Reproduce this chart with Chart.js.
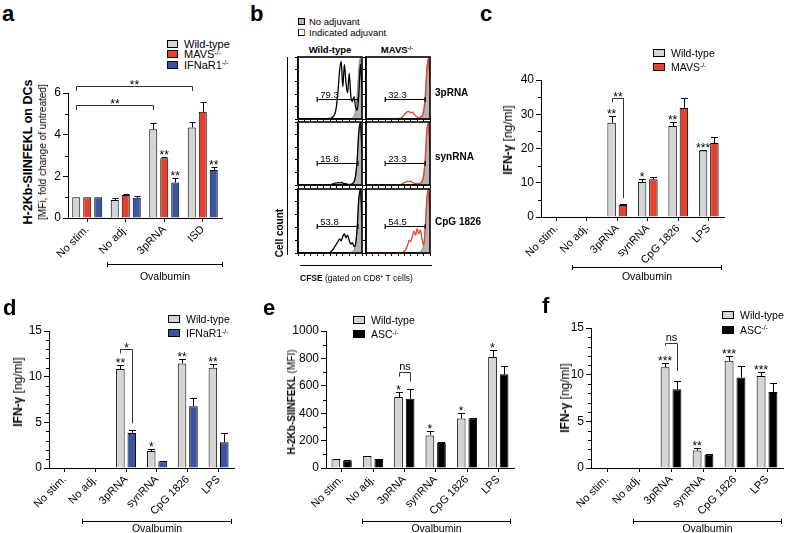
<!DOCTYPE html>
<html>
<head>
<meta charset="utf-8">
<title>Adjuvant panels</title>
<script src="https://cdn.jsdelivr.net/npm/chart.js@4.4.1/dist/chart.umd.min.js"></script>
<style>
  body { margin: 0; width: 785px; height: 533px; position: relative; overflow: hidden; background: #fff;
         font-family: "Liberation Sans", Arial, Helvetica, sans-serif; color: #000; }
  canvas { position: absolute; }
  .txt { position: absolute; white-space: nowrap; line-height: 1; }
  .box { position: absolute; border: 1px solid #000; box-sizing: border-box; }
  .line { position: absolute; background: #000; }
  sup { font-size: 0.62em; vertical-align: 0; position: relative; top: -0.5em; }
</style>
</head>
<body>
<script>
// ---- categories
const aCats = ['No stim.', 'No adj.', '3pRNA', 'ISD'];
const ovaCats = ['No stim.', 'No adj.', '3pRNA', 'synRNA', 'CpG 1826', 'LPS'];

// ---- panel a: H-2Kb-SIINFEKL on DCs (fold change of untreated)
const aWildType = [1.0, 0.87, 4.26, 4.35];
const aWildTypeErr = [0, 0.08, 0.31, 0.25];
const aMavs = [1.0, 1.1, 2.87, 5.1];
const aMavsErr = [0, 0.05, 0.05, 0.48];
const aIfnar = [1.0, 0.97, 1.7, 2.3];
const aIfnarErr = [0, 0.08, 0.2, 0.13];

// ---- panel c: IFN-g, wild-type vs MAVS-/-
const cWildType = [0, 0, 27.5, 10.2, 26.6, 19.4];
const cWildTypeErr = [0, 0, 2.1, 0.8, 1.0, 0.3];
const cMavs = [0.15, 0.15, 3.5, 11.0, 31.8, 21.6];
const cMavsErr = [0, 0, 0.3, 0.8, 3.0, 1.9];

// ---- panel d: IFN-g, wild-type vs IFNaR1-/-
const dWildType = [0, 0, 10.83, 1.87, 11.45, 10.98];
const dWildTypeErr = [0, 0, 0.44, 0.22, 0.48, 0.4];
const dIfnar = [0, 0.05, 3.84, 0.73, 6.77, 2.82];
const dIfnarErr = [0, 0, 0.29, 0.03, 0.91, 1.02];

// ---- panel e: H-2Kb-SIINFEKL (MFI), wild-type vs ASC-/-
const eWildType = [63, 87, 519, 238, 362, 811];
const eWildTypeErr = [3, 4, 39, 29, 41, 48];
const eAsc = [55, 65, 505, 182, 364, 684];
const eAscErr = [2, 3, 73, 6, 4, 61];

// ---- panel f: IFN-g, wild-type vs ASC-/-
const fWildType = [0, 0, 10.8, 1.87, 11.48, 9.87];
const fWildTypeErr = [0, 0, 0.43, 0.28, 0.47, 0.39];
const fAsc = [0, 0, 8.43, 1.43, 9.69, 8.15];
const fAscErr = [0, 0, 0.93, 0.02, 1.25, 1.0];

// significance marks: [category, dataset, text]
const aStars = [[2, 1, '**'], [2, 2, '**'], [3, 2, '**']];
const cStars = [[2, 0, '**'], [3, 0, '*'], [4, 0, '**'], [5, 0, '***']];
const dStars = [[2, 0, '**'], [3, 0, '*'], [4, 0, '**'], [5, 0, '**']];
const eStars = [[2, 0, '*'], [3, 0, '*'], [4, 0, '*'], [5, 0, '*']];
const fStars = [[2, 0, '***'], [3, 0, '**'], [4, 0, '***'], [5, 0, '***']];

// brackets: from [cat, ds] to [cat, ds], bar height, leg ends, label
const aBrackets = [
  { a: [0, 0], b: [3, 0], y: 6.34, ya: 6.1, yb: 6.1, text: '**' },
  { a: [0, 0], b: [2, 0], y: 5.42, ya: 5.18, yb: 5.18, text: '**' }
];
const cBrackets = [{ a: [2, 0], b: [2, 1], y: 34.7, ya: 33.5, yb: 5.5, text: '**' }];
const dBrackets = [{ a: [2, 0], b: [2, 1], y: 13.0, ya: 12.55, yb: 4.9, text: '*' }];
const eBrackets = [{ a: [2, 0], b: [2, 1], y: 703, ya: 667, yb: 631, text: 'ns' }];
const fBrackets = [{ a: [2, 0], b: [2, 1], y: 13.4, ya: 13.1, yb: 10.4, text: 'ns' }];

// ---- panel b: CFSE histograms (bins, % of max)
const cfseBins = [0,1,2,3,4,5,6,7,8,9,10,11,12,13,14,15,16,17,18,19,20,21,22,23,24,25,26,27,28,29,30,31,32,33,34,35,36,37,38,39,40];
const noAdjuvant = [0,0,0,0,0,0,0,0,0,0, 0,0,0,0,0,0,0,0,0,0, 0,0,0,0,0,0,0,0,0,0, 0,0,0,1,2,5,14,40,82,98,60];
const wt3pRNA = [0,0,0,0,0,0,0,0,0,0, 0,0,0,0,0,0,0,0,0,1, 1,2,4,8,20,45,78,93,52,88, 58,42,74,38,28,36,20,14,40,88,50];
const mavs3pRNA = [0,0,0,0,0,0,0,0,0,0, 0,0,0,0,0,0,0,0,0,0, 0,1,2,4,7,10,12,12,10,11, 8,5,3,2,3,5,12,30,75,98,55];
const wtSynRNA = [0,0,0,0,0,0,0,0,0,0, 0,0,0,0,0,0,0,0,0,0, 0,1,2,3,3,4,3,4,3,2, 2,1,1,1,2,5,15,40,85,99,50];
const mavsSynRNA = [0,0,0,0,0,0,0,0,0,0, 0,0,0,0,0,0,0,0,0,0, 0,0,1,2,4,5,6,5,6,4, 3,2,2,2,3,6,15,40,85,99,50];
const wtCpG = [0,0,0,0,0,0,0,0,0,0, 0,0,0,0,0,0,0,0,0,0, 1,3,6,10,14,18,22,19,26,30, 24,28,20,14,16,10,14,40,85,99,50];
const mavsCpG = [0,0,0,0,0,0,0,0,0,0, 0,0,0,0,0,0,0,0,0,0, 0,0,0,1,3,6,12,20,18,26, 34,28,38,30,36,22,12,35,85,99,50];
// gate: start, end, height; label
const gates = {
  wt3pRNA: [12, 37.5, 32, '79.3'], mavs3pRNA: [12, 37, 32, '32.3'],
  wtSynRNA: [12, 37.5, 35, '15.8'], mavsSynRNA: [12, 37, 35, '23.3'],
  wtCpG: [12, 37.5, 42, '53.8'], mavsCpG: [12, 37, 42, '54.5']
};

const GRAY = '#d4d4d4', RED = '#e5412d', BLUE = '#3b54a3', BLACK = '#000000';

Chart.defaults.font.family = '"Liberation Sans", Arial, sans-serif';
Chart.defaults.color = '#000';
Chart.defaults.animation = false;

// error bars, minor ticks, stars and brackets drawn from the chart's scales
Chart.register({
  id: 'prism',
  afterDatasetsDraw(chart, args, opts) {
    if (!opts || !opts.errors) return;
    const ctx = chart.ctx, y = chart.scales.y, area = chart.chartArea;
    ctx.save();
    ctx.strokeStyle = '#000';
    ctx.fillStyle = '#000';
    ctx.lineWidth = 1;
    ctx.beginPath();
    for (let v = opts.minor; v < y.max; v += opts.minor) {
      if (Math.abs(v / opts.step - Math.round(v / opts.step)) < 1e-6) continue;
      const py = Math.round(y.getPixelForValue(v)) + 0.5;
      ctx.moveTo(area.left - 3, py);
      ctx.lineTo(area.left, py);
    }
    ctx.stroke();
    const errTop = (di, ci) => {
      const v = chart.data.datasets[di].data[ci] + (opts.errors[di][ci] || 0);
      return y.getPixelForValue(v);
    };
    ctx.beginPath();
    opts.errors.forEach((errs, di) => {
      chart.getDatasetMeta(di).data.forEach((bar, ci) => {
        if (!errs[ci]) return;
        const x = Math.round(bar.x) + 0.5, top = Math.round(errTop(di, ci)) + 0.5;
        ctx.moveTo(x, bar.y);
        ctx.lineTo(x, top);
        ctx.moveTo(x - opts.cap, top);
        ctx.lineTo(x + opts.cap, top);
      });
    });
    ctx.stroke();
    ctx.font = '12px "Liberation Sans"';
    ctx.textAlign = 'center';
    ctx.textBaseline = 'alphabetic';
    (opts.stars || []).forEach(([ci, di, txt]) => {
      const bar = chart.getDatasetMeta(di).data[ci];
      ctx.fillText(txt, bar.x, errTop(di, ci) + 2);
    });
    ctx.strokeStyle = '#333';
    (opts.brackets || []).forEach(b => {
      const x1 = Math.round(chart.getDatasetMeta(b.a[1]).data[b.a[0]].x) + 0.5;
      const x2 = Math.round(chart.getDatasetMeta(b.b[1]).data[b.b[0]].x) + 0.5;
      const py = Math.round(y.getPixelForValue(b.y)) + 0.5;
      ctx.beginPath();
      ctx.moveTo(x1, y.getPixelForValue(b.ya));
      ctx.lineTo(x1, py);
      ctx.lineTo(x2, py);
      ctx.lineTo(x2, y.getPixelForValue(b.yb));
      ctx.stroke();
      const isStar = b.text.indexOf('*') >= 0;
      ctx.font = isStar ? '12px "Liberation Sans"' : '11px "Liberation Sans"';
      ctx.fillText(b.text, (x1 + x2) / 2, py + (isStar ? 2 : -3));
    });
    ctx.restore();
  }
});

// frame and gate for the flow histograms
Chart.register({
  id: 'flowFrame',
  afterDraw(chart, args, opts) {
    if (!opts || !opts.gate) return;
    const ctx = chart.ctx, a = chart.chartArea, x = chart.scales.x, y = chart.scales.y;
    const [g0, g1, gy, label] = opts.gate;
    ctx.save();
    ctx.strokeStyle = '#000';
    ctx.lineWidth = 1.6;
    ctx.strokeRect(a.left, a.top, a.right - a.left, a.bottom - a.top);
    const px0 = x.getPixelForValue(g0), px1 = x.getPixelForValue(g1), py = Math.round(y.getPixelForValue(gy)) + 0.5;
    ctx.lineWidth = 1.2;
    ctx.beginPath();
    ctx.moveTo(px0, py); ctx.lineTo(px1, py);
    ctx.moveTo(px0, py - 2.5); ctx.lineTo(px0, py + 2.5);
    ctx.moveTo(px1, py - 2.5); ctx.lineTo(px1, py + 2.5);
    ctx.stroke();
    ctx.fillStyle = '#000';
    ctx.font = '9.5px "Liberation Sans"';
    ctx.textBaseline = 'alphabetic';
    ctx.fillText(label, px0 + 3, py - 2);
    ctx.restore();
  }
});

function makeCanvas(x, y, w, h) {
  const c = document.createElement('canvas');
  c.width = w; c.height = h;
  c.style.left = x + 'px'; c.style.top = y + 'px';
  c.style.width = w + 'px'; c.style.height = h + 'px';
  document.body.appendChild(c);
  return c;
}

function barPanel(box, labels, sets, yMax, yStep, yMinor, stars, brackets) {
  const cv = makeCanvas(box.left - box.yw, box.top - box.padTop,
    box.yw + box.width + box.padRight, box.padTop + box.height + box.xh);
  return new Chart(cv, {
    type: 'bar',
    data: {
      labels: labels,
      datasets: sets.map(s => ({
        data: s.data, backgroundColor: s.color, borderColor: '#000', borderWidth: 1,
        borderSkipped: 'bottom', categoryPercentage: box.cat, barPercentage: box.bar
      }))
    },
    options: {
      responsive: false,
      animation: false,
      layout: { padding: { top: box.padTop, right: box.padRight, left: 0, bottom: 0 }, autoPadding: false },
      plugins: {
        legend: { display: false },
        tooltip: { enabled: false },
        prism: { errors: sets.map(s => s.err), step: yStep, minor: yMinor, cap: box.cap, stars: stars, brackets: brackets }
      },
      scales: {
        x: {
          grid: { display: true, drawOnChartArea: false, offset: false, tickLength: 4, color: '#000' },
          border: { color: '#000', width: 1 },
          ticks: { maxRotation: 45, minRotation: 45, padding: 1, autoSkip: false, font: { size: 11 } },
          afterFit: s => { s.height = box.xh; }
        },
        y: {
          min: 0, max: yMax,
          grid: { display: true, drawOnChartArea: false, tickLength: 5, color: '#000' },
          border: { color: '#000', width: 1 },
          ticks: { stepSize: yStep, padding: 2, font: { size: 12 }, callback: v => String(v) },
          afterFit: s => { s.width = box.yw; }
        }
      }
    }
  });
}

function histPanel(x, y, w, h, curve, color, gate) {
  const cv = makeCanvas(x - 4, y - 1, w + 5, h + 5);
  return new Chart(cv, {
    type: 'line',
    data: {
      labels: cfseBins,
      datasets: [
        { data: curve, borderColor: color, borderWidth: 1.3, pointRadius: 0, fill: false, cubicInterpolationMode: 'monotone' },
        { data: noAdjuvant, borderColor: '#555', borderWidth: 0.6, backgroundColor: '#b4b4b4', pointRadius: 0, fill: 'origin', cubicInterpolationMode: 'monotone' }
      ]
    },
    options: {
      responsive: false,
      animation: false,
      layout: { padding: { top: 1, right: 1, left: 0, bottom: 0 }, autoPadding: false },
      plugins: { legend: { display: false }, tooltip: { enabled: false }, flowFrame: { gate: gate } },
      scales: {
        x: {
          type: 'linear', min: 0, max: 40,
          ticks: { display: false, stepSize: 4 },
          grid: { drawOnChartArea: false, tickLength: 3, color: '#000' },
          border: { color: '#000', width: 1.5 },
          afterFit: s => { s.height = 4; }
        },
        y: {
          min: 0, max: 100,
          ticks: { display: false, stepSize: 20 },
          grid: { drawOnChartArea: false, tickLength: 3, color: '#000' },
          border: { color: '#000', width: 1.5 },
          afterFit: s => { s.width = 4; }
        }
      }
    }
  });
}

// ---- html text helpers
function addText(html, x, y, size, opts) {
  opts = opts || {};
  const d = document.createElement('div');
  d.className = 'txt';
  d.innerHTML = html;
  d.style.left = x + 'px';
  d.style.top = y + 'px';
  d.style.fontSize = size + 'px';
  if (opts.bold) d.style.fontWeight = 'bold';
  const ax = opts.align === 'center' ? '-50%' : opts.align === 'right' ? '-100%' : '0';
  d.style.transform = opts.rot ? 'translate(-50%,-50%) rotate(-90deg)' : 'translate(' + ax + ',-50%)';
  document.body.appendChild(d);
  return d;
}
function addLine(x, y, w, h, color) {
  const d = document.createElement('div');
  d.className = 'line';
  Object.assign(d.style, { left: x + 'px', top: y + 'px', width: w + 'px', height: h + 'px', background: color || '#000' });
  document.body.appendChild(d);
}
function addLegend(x, y, gap, bw, bh, size, items) {
  items.forEach((it, i) => {
    const cy = y + i * gap;
    const b = document.createElement('div');
    b.className = 'box';
    Object.assign(b.style, { left: x + 'px', top: (cy - bh / 2) + 'px', width: bw + 'px', height: bh + 'px', background: it[1] });
    document.body.appendChild(b);
    addText(it[0], x + bw + 6, cy, size);
  });
}
function addOvalbumin(x1, x2, y, ty) {
  addLine(x1, y, x2 - x1, 1);
  addLine(x1, y - 2, 1, 5);
  addLine(x2 - 1, y - 2, 1, 5);
  addText('Ovalbumin', (x1 + x2) / 2, ty, 10.5, { align: 'center' });
}

// ---- panel a
barPanel({ left: 68, top: 93, width: 154, height: 125, yw: 30, xh: 60, padTop: 22, padRight: 4, cat: 0.857, bar: 0.727, cap: 3 },
  aCats,
  [{ data: aWildType, err: aWildTypeErr, color: GRAY },
   { data: aMavs, err: aMavsErr, color: RED },
   { data: aIfnar, err: aIfnarErr, color: BLUE }],
  6, 2, 1, aStars, aBrackets);
addText('a', 2, 14, 22, { bold: true });
addLegend(167, 43.5, 10.6, 11, 8, 11, [['Wild-type', GRAY], ['MAVS<sup>-/-</sup>', RED], ['IFNaR1<sup>-/-</sup>', BLUE]]);
addText('H-2Kb-SIINFEKL on DCs', 28, 152, 12.5, { bold: true, rot: true });
addText('[MFi, fold change of untreated]', 43, 152, 10, { rot: true });
addOvalbumin(107, 223, 264, 276);

// ---- panel b
addText('b', 250, 14, 22, { bold: true });
const nb = document.createElement('div');
nb.className = 'box';
Object.assign(nb.style, { left: '298px', top: '18px', width: '7px', height: '7px', background: '#b4b4b4' });
document.body.appendChild(nb);
const ib = document.createElement('div');
ib.className = 'box';
Object.assign(ib.style, { left: '298px', top: '29px', width: '7px', height: '7px', borderTopColor: RED, borderRightColor: RED });
document.body.appendChild(ib);
addText('No adjuvant', 309, 21.5, 9.5);
addText('Indicated adjuvant', 309, 32.5, 9.5);
addText('Wild-type', 330, 50, 9.5, { bold: true, align: 'center' });
addText('MAVS<sup>-/-</sup>', 397, 50, 9.5, { bold: true, align: 'center' });
histPanel(298, 57, 64, 62, wt3pRNA, BLACK, gates.wt3pRNA);
histPanel(366, 57, 64, 62, mavs3pRNA, RED, gates.mavs3pRNA);
histPanel(298, 122, 64, 63, wtSynRNA, BLACK, gates.wtSynRNA);
histPanel(366, 122, 64, 63, mavsSynRNA, RED, gates.mavsSynRNA);
histPanel(298, 189, 64, 64, wtCpG, BLACK, gates.wtCpG);
histPanel(366, 189, 64, 64, mavsCpG, RED, gates.mavsCpG);
addText('3pRNA', 435, 93, 10, { bold: true });
addText('synRNA', 435, 157, 10, { bold: true });
addText('CpG 1826', 435, 222, 10, { bold: true });
addLine(287, 57, 1, 198);
addText('Cell count', 280, 233, 10, { bold: true, rot: true });
addLine(300, 265, 132, 1);
addText('<b>CFSE</b> (gated on CD8<sup>+</sup> T cells)', 300, 278, 8.5);

// ---- panel c
barPanel({ left: 541, top: 80, width: 183, height: 137, yw: 30, xh: 60, padTop: 22, padRight: 4, cat: 0.74, bar: 0.75, cap: 3.5 },
  ovaCats,
  [{ data: cWildType, err: cWildTypeErr, color: GRAY },
   { data: cMavs, err: cMavsErr, color: RED }],
  40, 10, 5, cStars, cBrackets);
addText('c', 480, 14, 22, { bold: true });
addLegend(653, 53, 14, 12, 8, 10.5, [['Wild-type', GRAY], ['MAVS<sup>-/-</sup>', RED]]);
addText('<b>IFN-γ</b> [ng/ml]', 508, 140, 12, { rot: true });
addOvalbumin(572, 722, 267, 276);

// ---- panel d
barPanel({ left: 49, top: 331, width: 185, height: 137, yw: 30, xh: 60, padTop: 14, padRight: 4, cat: 0.74, bar: 0.75, cap: 3.5 },
  ovaCats,
  [{ data: dWildType, err: dWildTypeErr, color: GRAY },
   { data: dIfnar, err: dIfnarErr, color: BLUE }],
  15, 5, 1, dStars, dBrackets);
addText('d', 3, 308, 22, { bold: true });
addLegend(168, 318.5, 14.5, 12, 8, 10.5, [['Wild-type', GRAY], ['IFNaR1<sup>-/-</sup>', BLUE]]);
addText('<b>IFN-γ</b> [ng/ml]', 18, 392, 12, { rot: true });
addOvalbumin(82, 232, 521, 528);

// ---- panel e
barPanel({ left: 326, top: 331, width: 188, height: 137, yw: 34, xh: 60, padTop: 14, padRight: 4, cat: 0.74, bar: 0.75, cap: 3.5 },
  ovaCats,
  [{ data: eWildType, err: eWildTypeErr, color: GRAY },
   { data: eAsc, err: eAscErr, color: BLACK }],
  1000, 200, 100, eStars, eBrackets);
addText('e', 263, 308, 22, { bold: true });
addLegend(353, 320, 14, 12, 8, 10.5, [['Wild-type', GRAY], ['ASC<sup>-/-</sup>', BLACK]]);
addText('<b>H-2Kb-SIINFEKL</b> (MFI)', 292, 402, 10, { rot: true });
addOvalbumin(362, 511, 521, 528);

// ---- panel f
barPanel({ left: 591, top: 328, width: 192, height: 140, yw: 30, xh: 60, padTop: 14, padRight: 2, cat: 0.74, bar: 0.75, cap: 3.5 },
  ovaCats,
  [{ data: fWildType, err: fWildTypeErr, color: GRAY },
   { data: fAsc, err: fAscErr, color: BLACK }],
  15, 5, 1, fStars, fBrackets);
addText('f', 542, 306, 22, { bold: true });
addLegend(722, 315, 14.5, 12, 8, 10.5, [['Wild-type', GRAY], ['ASC<sup>-/-</sup>', BLACK]]);
addText('<b>IFN-γ</b> [ng/ml]', 565, 398, 12, { rot: true });
addOvalbumin(633, 782, 521, 528);
</script>
</body>
</html>
